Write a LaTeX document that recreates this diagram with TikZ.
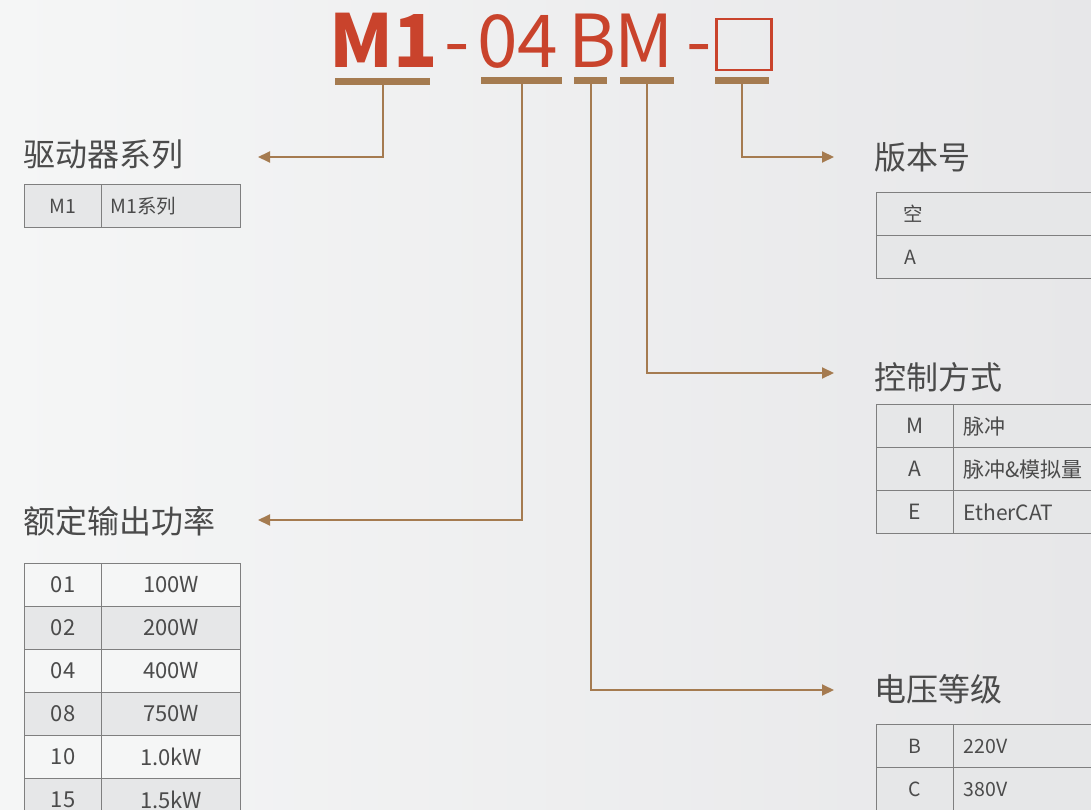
\documentclass[tikz,border=0pt]{standalone}
\usepackage{fontspec}
\setmainfont{Noto Sans CJK SC}
\usetikzlibrary{arrows.meta,positioning}

\definecolor{codered}{HTML}{C9432C}
\definecolor{barbrown}{HTML}{A57B50}
\definecolor{labelgray}{HTML}{4B4B4B}
\definecolor{gridgray}{HTML}{7F7F7F}
\definecolor{rowlight}{HTML}{F5F6F6}
\definecolor{rowdark}{HTML}{E6E7E8}
\definecolor{bgleft}{HTML}{F5F6F6}
\definecolor{bgright}{HTML}{E7E7E9}

\tikzset{
    codepart/.style={text=codered,inner sep=0pt,anchor=base west,font=\fontsize{73}{80}\selectfont},
    bar/.style={fill=barbrown,inner sep=0pt,minimum height=7pt,anchor=north west},
    conn/.style={draw=barbrown,line width=2pt,-{Triangle[length=12pt,width=11pt]}},
    heading/.style={text=labelgray,inner sep=0pt,anchor=west,font=\fontsize{32}{36}\selectfont},
    cell/.style={draw=gridgray,line width=1.3pt,inner sep=0pt,anchor=north west,text=labelgray},
    small/.style={font=\fontsize{19.5}{22}\selectfont},
    large/.style={font=\fontsize{22}{26}\selectfont},
    lefttext/.style={align=left,inner xsep=#1}
}

\begin{document}
\begin{tikzpicture}[x=1pt,y=-1pt]
    \useasboundingbox (0,0) rectangle (1091,810);
    \clip (0,0) rectangle (1091,810);
    \shade[left color=bgleft,right color=bgright] (0,0) rectangle (1091,810);

    % model code
    \node[codepart,font=\fontsize{73}{80}\selectfont\bfseries] (cSeries) at (329,68) {M1};
    \node[codepart] (cDash1) at (444,68) {-};
    \node[codepart] (cPower) at (477,68) {04};
    \node[codepart] (cVolt) at (568,68) {B};
    \node[codepart] (cCtrl) at (614,68) {M};
    \node[codepart] (cDash2) at (686,68) {-};
    \node[draw=codered,line width=2.5pt,inner sep=0pt,minimum width=55pt,minimum height=51pt,anchor=north west] (cVer) at (715,18) {};

    % underline bars
    \node[bar,minimum width=95pt] (barSeries) at (335,78) {};
    \node[bar,minimum width=81pt] (barPower) at (481,77) {};
    \node[bar,minimum width=33pt] (barVolt) at (574,77) {};
    \node[bar,minimum width=54pt] (barCtrl) at (620,77) {};
    \node[bar,minimum width=54pt] (barVer) at (715,77) {};

    % headings
    \node[heading] (hSeries) at (23,155) {驱动器系列};
    \node[heading] (hPower) at (23,521) {额定输出功率};
    \node[heading] (hVer) at (874,157) {版本号};
    \node[heading] (hCtrl) at (874,377) {控制方式};
    \node[heading] (hVolt) at (874,689) {电压等级};

    % arrow ends
    \coordinate (tSeries) at (258,157);
    \coordinate (tPower) at (258,520);
    \coordinate (tVer) at (834,157);
    \coordinate (tCtrl) at (834,373);
    \coordinate (tVolt) at (834,690);

    \draw[conn] (barSeries.south) |- (tSeries);
    \draw[conn] (barPower.south) |- (tPower);
    \draw[conn] (barVolt.south) |- (tVolt);
    \draw[conn] (barCtrl.south) |- (tCtrl);
    \draw[conn] (barVer.south) |- (tVer);

    % series table
    \node[cell,small,fill=rowdark,minimum width=77pt,minimum height=43pt] (sKey) at (24,184) {M1};
    \node[cell,small,fill=rowdark,text width=121pt,lefttext=9pt,minimum height=43pt] (sVal) at (101,184) {M1系列};

    % power table
    \foreach \code/\watt [count=\i] in {01/100W,02/200W,04/400W,08/750W,10/1.0kW,15/1.5kW} {
        \pgfmathsetmacro{\rowy}{562.5+43*(\i-1)}
        \ifodd\i \def\rowfill{rowlight}\else \def\rowfill{rowdark}\fi
        \node[cell,large,fill=\rowfill,minimum width=77pt,minimum height=43pt] (pKey\i) at (24,\rowy) {\code};
        \node[cell,large,fill=\rowfill,minimum width=139pt,minimum height=43pt] (pVal\i) at (101,\rowy) {\watt};
    }

    % version table
    \node[cell,small,fill=rowdark,text width=190pt,lefttext=27pt,minimum height=43pt] (vEmpty) at (876,192) {空};
    \node[cell,small,fill=rowdark,text width=190pt,lefttext=28pt,minimum height=43pt] (vA) at (876,235) {A};

    % control table
    \foreach \code/\mode [count=\i] in {M/脉冲,A/脉冲\&模拟量,E/EtherCAT} {
        \pgfmathsetmacro{\rowy}{404+43*(\i-1)}
        \node[cell,font=\fontsize{21}{24}\selectfont,fill=rowdark,minimum width=77pt,minimum height=43pt] (mKey\i) at (876,\rowy) {\code};
        \node[cell,font=\fontsize{21}{24}\selectfont,fill=rowdark,text width=140pt,lefttext=10pt,minimum height=43pt] (mVal\i) at (953,\rowy) {\mode};
    }

    % voltage table
    \foreach \code/\volt [count=\i] in {B/220V,C/380V} {
        \pgfmathsetmacro{\rowy}{724+43*(\i-1)}
        \node[cell,font=\fontsize{19.5}{22}\selectfont,fill=rowdark,minimum width=77pt,minimum height=43pt] (uKey\i) at (876,\rowy) {\code};
        \node[cell,font=\fontsize{19.5}{22}\selectfont,fill=rowdark,text width=140pt,lefttext=10pt,minimum height=43pt] (uVal\i) at (953,\rowy) {\volt};
    }
\end{tikzpicture}
\end{document}
